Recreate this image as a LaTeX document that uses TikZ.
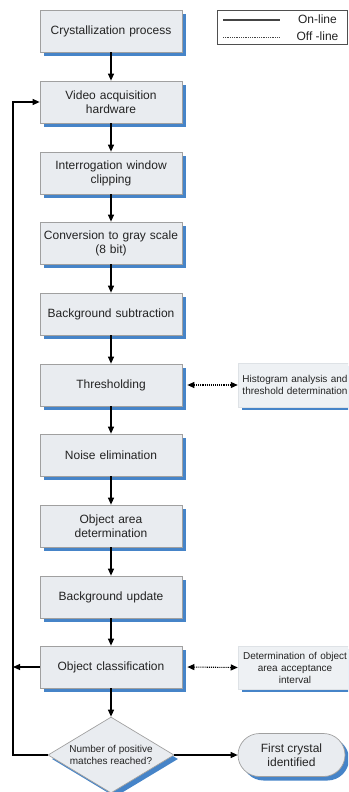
\documentclass[tikz,border=0pt]{standalone}
\usepackage{fontspec}
\setmainfont{Liberation Sans}
\usetikzlibrary{shapes.geometric,shapes.misc,shadows,arrows.meta}

\definecolor{boxfill}{RGB}{233,236,240}
\definecolor{sidefill}{RGB}{238,241,244}
\definecolor{boxline}{RGB}{160,160,160}
\definecolor{sideline}{RGB}{222,226,230}
\definecolor{shadowblue}{RGB}{70,132,200}
\definecolor{inkgray}{RGB}{35,35,35}

\tikzset{
  blueshadow/.style={drop shadow={shadow xshift=4pt, shadow yshift=-4pt,
      fill=shadowblue, opacity=1}},
  stepbox/.style={rectangle, draw=boxline, line width=0.7pt, fill=boxfill,
      blueshadow, minimum width=142pt, minimum height=42pt, inner sep=0pt,
      text width=136pt, align=center, text=inkgray,
      font=\fontsize{12}{14}\selectfont},
  sidebox/.style={rectangle, draw=sideline, line width=0.5pt, fill=sidefill,
      drop shadow={shadow xshift=4pt, shadow yshift=-3pt, fill=shadowblue, opacity=1},
      minimum width=114pt, inner sep=0pt, text width=110pt, align=center,
      text=inkgray, font=\fontsize{10}{12}\selectfont},
  decision/.style={diamond, draw=boxline, line width=0.7pt, fill=boxfill,
      blueshadow, minimum width=126pt, minimum height=76pt, inner sep=0pt},
  terminal/.style={rounded rectangle, draw=boxline, line width=0.7pt,
      fill=boxfill, blueshadow, minimum width=107pt, minimum height=43pt,
      inner sep=0pt, align=center, text=inkgray,
      font=\fontsize{12}{14}\selectfont},
  flow/.style={draw=black, line width=1.1pt,
      -{Triangle[length=7pt,width=6pt]}},
  offflow/.style={draw=black, line width=1.1pt, densely dotted,
      {Triangle[length=7pt,width=6pt]}-{Triangle[length=7pt,width=6pt]}},
  legendtext/.style={font=\fontsize{12}{14}\selectfont, text=inkgray, inner sep=0pt}
}

\begin{document}
\begin{tikzpicture}[x=1pt,y=-1pt]
  \useasboundingbox (0,0) rectangle (348,792);
  \clip (0,0) rectangle (348,792);

  % main processing chain
  \node[stepbox] (cryst)   at (111,31)  {Crystallization process};
  \node[stepbox] (video)   at (111,102) {Video acquisition\\hardware};
  \node[stepbox] (window)  at (111,173) {Interrogation window\\clipping};
  \node[stepbox] (gray)    at (111,243) {Conversion to gray scale\\(8 bit)};
  \node[stepbox] (bgsub)   at (111,314) {Background subtraction};
  \node[stepbox] (thresh)  at (111,385) {Thresholding};
  \node[stepbox] (noise)   at (111,455) {Noise elimination};
  \node[stepbox] (area)    at (111,526) {Object area\\determination};
  \node[stepbox] (bgupd)   at (111,597) {Background update};
  \node[stepbox] (classif) at (111,667) {Object classification};

  % decision and end point
  \node[decision] (dec) at (111,755) {};
  \node[font=\fontsize{10}{12.5}\selectfont, align=center, text=inkgray,
        inner sep=0pt] (dectext) at (dec.center)
        {Number of positive\\matches reached?};
  \node[terminal] (found) at (291.5,755) {First crystal\\identified};

  % off-line side tasks
  \node[sidebox, minimum height=44pt] (hist) at (295,385)
        {Histogram analysis and\\threshold determination};
  \node[sidebox, minimum height=43pt] (accept) at (295,667.5)
        {Determination of object\\area acceptance\\interval};

  % legend
  \node[rectangle, draw=inkgray!80, line width=0.7pt, fill=white,
        minimum width=130.5pt, minimum height=34pt, inner sep=0pt]
        (legend) at (282.25,27) {};
  \coordinate (onA)  at (223,20);
  \coordinate (onB)  at (280,20);
  \coordinate (offA) at (223,37);
  \coordinate (offB) at (280,37);
  \draw[inkgray!85, line width=1.1pt] (onA) -- (onB);
  \draw[inkgray!85, line width=0.8pt, densely dotted] (offA) -- (offB);
  \node[legendtext] (ontext)  at (317.5,19.5) {On-line};
  \node[legendtext] (offtext) at (317.5,36.5) {Off -line};

  % on-line flow
  \draw[flow] (cryst)   -- (video);
  \draw[flow] (video)   -- (window);
  \draw[flow] (window)  -- (gray);
  \draw[flow] (gray)    -- (bgsub);
  \draw[flow] (bgsub)   -- (thresh);
  \draw[flow] (thresh)  -- (noise);
  \draw[flow] (noise)   -- (area);
  \draw[flow] (area)    -- (bgupd);
  \draw[flow] (bgupd)   -- (classif);
  \draw[flow] (classif) -- (dec.north);
  \draw[flow] (dec.east) -- (found.west);

  % feedback loop
  \coordinate (loopL) at (13,755);
  \draw[flow] (dec.west) -- (loopL) |- (video.west);
  \draw[flow] (classif.west) -- (classif.west -| loopL);

  % off-line exchanges
  \draw[offflow] ([xshift=5pt]thresh.east) -- (hist.west);
  \draw[offflow] ([xshift=5pt]classif.east) -- (accept.west);
\end{tikzpicture}
\end{document}
